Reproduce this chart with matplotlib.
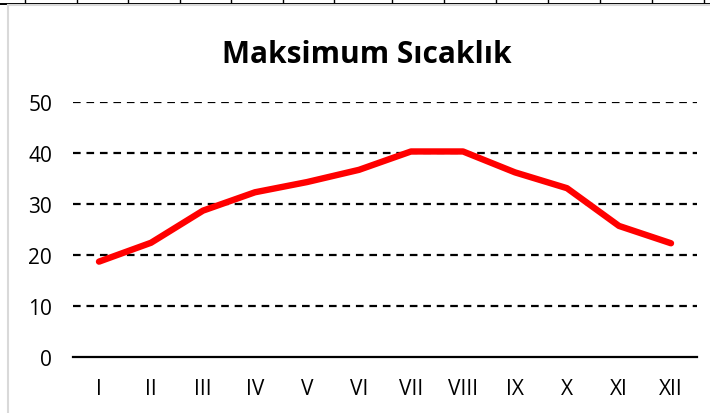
import matplotlib.pyplot as plt
from matplotlib.lines import Line2D

# aylık maksimum sıcaklık (°C)
aylar = ["I", "II", "III", "IV", "V", "VI", "VII", "VIII", "IX", "X", "XI", "XII"]
sicaklik = [18.7, 22.4, 28.7, 32.3, 34.3, 36.7, 40.3, 40.3, 36.2, 33.1, 25.7, 22.3]
y_ticks = [0, 10, 20, 30, 40, 50]

plt.rcParams["lines.scale_dashes"] = False
plt.rcParams["font.family"] = ["Open Sans", "DejaVu Sans"]

W, H = 710, 414
fig = plt.figure(figsize=(W / 100, H / 100), dpi=100)
fig.patch.set_facecolor("white")

# spreadsheet cell borders above the chart frame
fig.add_artist(Line2D([0, 1], [1 - 4.5 / H] * 2, transform=fig.transFigure,
                      color="black", lw=1.4))
for xc in [25, 77, 128, 180, 231, 283, 334, 392, 444, 496, 548, 600, 652, 704]:
    fig.add_artist(Line2D([xc / W] * 2, [1 - 4.5 / H, 1], transform=fig.transFigure,
                          color="black", lw=1.0))
# chart frame edges
fig.add_artist(Line2D([8 / W, 8 / W], [0, 1 - 6 / H], transform=fig.transFigure,
                      color="#d9d9d9", lw=1.5))
fig.add_artist(Line2D([8 / W, 1], [1 - 6 / H] * 2, transform=fig.transFigure,
                      color="#d9d9d9", lw=1.5))

ax = fig.add_axes([73 / W, 1 - 358 / H, 624 / W, 255 / H])
x = list(range(len(aylar)))
ax.plot(x, sicaklik, color="#ff0000", lw=4.6, solid_capstyle="round",
        solid_joinstyle="round", zorder=3)

ax.set_xlim(-0.5, len(aylar) - 0.5)
ax.set_ylim(0, 50)
ax.set_yticks(y_ticks)
ax.set_xticks(x)
ax.set_xticklabels(aylar)
for yv in y_ticks[1:]:
    ax.axhline(yv, color="black", lw=1.6, ls=(0, (5.5, 4.2)), zorder=1)
ax.axhline(0, color="black", lw=1.6, zorder=2, clip_on=False)

for s in ax.spines.values():
    s.set_visible(False)
ax.tick_params(length=0, labelsize=15, colors="black")
ax.tick_params(axis="y", pad=15)
ax.tick_params(axis="x", pad=15)

fig.text(367 / W, 1 - 63 / H, "Maksimum Sıcaklık", ha="center", va="baseline",
         fontsize=21.5, fontweight="bold", color="black")

fig.savefig("out.png", dpi=100)
